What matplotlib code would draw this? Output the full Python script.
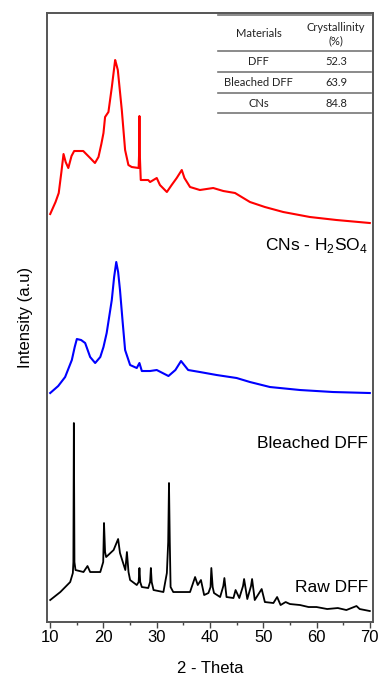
import numpy as np
import matplotlib.pyplot as plt

plt.rcParams['font.family'] = ['Liberation Sans', 'DejaVu Sans']
plt.rcParams['mathtext.fontset'] = 'custom'
plt.rcParams['mathtext.rm'] = 'Liberation Sans'

# --- data (2-theta, intensity in a.u.) --- #
cns_x = [10, 11.0, 11.6, 12.1, 12.5, 12.9, 13.4, 14.0, 14.5, 15.5, 16.2, 17.5,
         18.4, 19.06, 19.6, 20.0, 20.3, 20.93, 21.57, 22.19, 22.4, 22.69, 23.44,
         24.06, 24.68, 25.3, 26.6, 26.7, 26.75, 26.8, 27.0, 28.4, 28.75, 30.0,
         30.6, 31.9, 32.8, 33.75, 34.7, 35.2, 36.25, 38.1, 40.6, 42.5, 44.7,
         47.5, 50.3, 53.75, 58.75, 63.75, 70]
cns_y = [408, 420, 429, 450, 468, 460, 454, 466, 471, 471, 471, 464,
         459, 465, 478, 489, 505, 510, 535, 562, 558, 552, 512,
         472, 457, 455, 454, 470, 506, 470, 442, 442, 440, 444,
         437, 430, 437, 444, 452, 444, 435, 432, 434, 431, 429,
         420, 415, 410, 405, 402, 399]

bl_x = [10, 11.5, 12.8, 14.06, 14.6, 15.0, 15.8, 16.56, 17.5, 18.44, 19.4,
        20.0, 20.6, 21.56, 22.0, 22.4, 22.75, 23.1, 23.6, 24.06, 25.0, 26.25,
        26.75, 27.2, 28.75, 30, 32.2, 33.5, 34.56, 35.9, 38.1, 41.25, 45,
        47.5, 51.25, 56.9, 63.1, 70]
bl_y = [229, 236, 245, 262, 275, 283, 282, 279, 265, 259, 265,
        275, 289, 322, 345, 360, 350, 332, 300, 272, 257, 254,
        259, 251, 251, 252, 246, 252, 261, 252, 250, 247, 244,
        240, 235, 232, 230, 229]

raw_x = [10, 11.9, 13.75, 14.25, 14.35, 14.44, 14.55, 14.75, 16.25, 17.0, 17.5,
         19.4, 19.95, 20.1, 20.3, 20.5, 21.9, 22.75, 23.1, 24.1, 24.4, 24.7, 25.0,
         26.25, 26.6, 26.75, 26.9, 27.2, 28.4, 28.75, 28.9, 29.05, 29.4, 31.25,
         31.9, 32.15, 32.3, 32.45, 32.6, 33.1, 36.25, 37.2, 37.7, 38.3, 38.9,
         39.7, 40.1, 40.25, 40.5, 40.75, 41.9, 42.5, 42.7, 43.1, 44.4, 44.8, 45.5,
         46.2, 46.4, 47.0, 47.7, 47.9, 48.4, 49.7, 50.3, 51.9, 52.6, 53.25, 54.2,
         55, 56.9, 58.5, 60, 62, 64, 65.6, 67.5, 68.1, 70]
raw_y = [22, 30, 40, 49, 60, 199, 60, 52, 50, 56, 50,
         50, 60, 99, 70, 65, 72, 83, 69, 52, 70, 50, 42,
         37, 40, 54, 40, 35, 34, 40, 54, 40, 32, 30,
         49, 80, 139, 80, 35, 30, 30, 45, 37, 42, 27,
         29, 35, 54, 35, 29, 25, 36, 44, 25, 24, 32, 24,
         36, 43, 23, 36, 43, 22, 33, 20, 19, 25, 17, 20,
         18, 17, 15, 15, 13, 14, 12, 16, 13, 11]

materials = ['DFF', 'Bleached DFF', 'CNs']
crystallinity = ['52.3', '63.9', '84.8']

# --- plot --- #
fig = plt.figure(figsize=(3.81, 6.77), dpi=100)
ax = fig.add_axes([0.1234, 0.0812, 0.8556, 0.8996])

ax.plot(cns_x, cns_y, c='#ff0000', lw=1.5)
ax.plot(bl_x, bl_y, c='#0000ff', lw=1.5)
ax.plot(raw_x, raw_y, c='black', lw=1.3)

ax.set_xlim(9.4, 70.6)
ax.set_ylim(0, 609)
ax.set_xticks(range(10, 71, 10))
ax.set_xticks(range(15, 70, 10), minor=True)
ax.set_yticks([])
ax.tick_params(axis='x', which='major', direction='out', length=4, width=1,
               labelsize=12, pad=2, color='#444444')
ax.tick_params(axis='x', which='minor', direction='out', length=2.5, width=1,
               color='#444444')
for s in ax.spines.values():
    s.set_color('#555555')
    s.set_linewidth(1.4)

ax.set_xlabel('2 - Theta', fontsize=12, labelpad=11)
ax.set_ylabel('Intensity (a.u)', fontsize=12, labelpad=10)

# curve labels
ax.text(69.6, 377, r'CNs - H$_2$SO$_4$', ha='right', va='center', fontsize=12.5)
ax.text(69.6, 179, 'Bleached DFF', ha='right', va='center', fontsize=12.5)
ax.text(69.6, 35, 'Raw DFF', ha='right', va='center', fontsize=12.5)

# inset table
tf = dict(family=['Lato', 'DejaVu Sans'], fontsize=8, color='#222222')
x0, x1 = 0.524, 0.994
c0, c1 = 0.650, 0.887
ax.text(c0, 0.967, 'Materials', transform=ax.transAxes, ha='center',
        va='center', **tf)
ax.text(c1, 0.966, 'Crystallinity\n(%)', transform=ax.transAxes,
        ha='center', va='center', linespacing=1.25, **tf)
lines = [0.9967, 0.9376, 0.9031, 0.8686, 0.8358]
for yl in lines:
    ax.plot([x0, x1], [yl, yl], transform=ax.transAxes, c='#777777', lw=1.2,
            clip_on=False)
for i, (m, c) in enumerate(zip(materials, crystallinity)):
    yc = (lines[i + 1] + lines[i + 2]) / 2
    ax.text(c0, yc, m, transform=ax.transAxes, ha='center', va='center', **tf)
    ax.text(c1, yc, c, transform=ax.transAxes, ha='center', va='center', **tf)

fig.savefig('out.png', dpi=100)
